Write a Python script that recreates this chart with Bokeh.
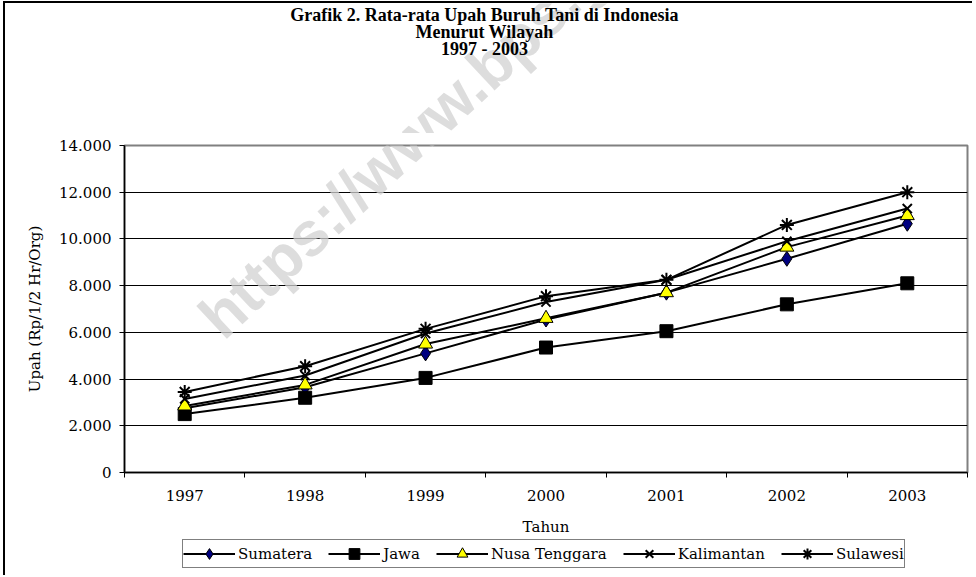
from bokeh.plotting import figure
from bokeh.layouts import column
from bokeh.models import FixedTicker, Legend, LegendItem, Label, Range1d
from bokeh.embed import file_html
from bokeh.resources import INLINE
import math

# ---- data ----
years = ["1997", "1998", "1999", "2000", "2001", "2002", "2003"]
sumatera = [2750, 3650, 5100, 6550, 7700, 9150, 10650]
jawa = [2500, 3200, 4050, 5350, 6050, 7200, 8100]
nusa_tenggara = [2850, 3750, 5500, 6600, 7700, 9650, 11000]
kalimantan = [3150, 4150, 5950, 7300, 8250, 9900, 11300]
sulawesi = [3450, 4550, 6150, 7550, 8250, 10600, 12000]
y_ticks = [0, 2000, 4000, 6000, 8000, 10000, 12000, 14000]
y_tick_labels = ["0", "2.000", "4.000", "6.000", "8.000", "10.000", "12.000", "14.000"]
title_lines = ["Grafik 2. Rata-rata Upah Buruh Tani di Indonesia", "Menurut Wilayah", "1997 - 2003"]
x_title = "Tahun"
y_title = "Upah (Rp/1/2 Hr/Org)"
watermark = "https://www.bps.go.id"

xs = [i + 1 for i in range(len(years))]

# ---- layout (page pixels) ----
OX, OY = 5, 3            # content origin inside the css border
W = 967
HH = 130                 # header canvas height
MAIN_TOP = OY + HH
ML, MT, MR = 124 - OX, 145 - MAIN_TOP, (OX + W) - 967
FH = 329
MB = 64
HM = MT + FH + MB
LEG_TOP = MAIN_TOP + HM
HL = 575 - LEG_TOP
FW = W - ML - MR
PX0, PX1 = OX + ML, OX + W - MR     # page x of frame edges (shared by all rows)
X0, X1 = 0.5, len(years) + 0.5
Y0, Y1 = 0, 14000

def xd(px):  # page px -> main data x
    return X0 + (px - PX0) * (X1 - X0) / FW

def yd(py):  # page py -> main data y
    return Y0 + (MAIN_TOP + MT + FH - py) * (Y1 - Y0) / FH

SERIF = "DejaVu Serif"
FS = "15px"
WM_X, WM_Y, WM_ANGLE = 232, 352, 43
WM_STYLE = dict(text_font="Liberation Sans", text_font_style="bold", text_font_size="62px",
                text_color="#d2d2d2", text_alpha=0.75, level="underlay")

def strip(top, height):
    # a row whose frame shares the main chart's horizontal extent; data units = page pixels
    f = figure(width=W, height=height, output_backend="svg", toolbar_location=None,
               x_range=Range1d(PX0, PX1), y_range=Range1d(top + height, top),
               x_axis_location=None, y_axis_location=None,
               min_border=0, min_border_left=ML, min_border_right=MR,
               min_border_top=0, min_border_bottom=0,
               background_fill_color="white", border_fill_color="white")
    f.grid.visible = False
    f.outline_line_color = None
    return f

# ---- header (title) ----
hdr = strip(OY, HH)
hdr.add_layout(Label(x=WM_X, y=WM_Y, text=watermark,
                     angle=math.radians(WM_ANGLE), **WM_STYLE))
for line, cy in zip(title_lines, [14, 31, 48]):
    hdr.add_layout(Label(x=484, y=cy, text=line, text_align="center",
                         text_baseline="middle", text_font="Liberation Serif",
                         text_font_style="bold", text_font_size="18px", text_color="black"))

# ---- main chart ----
p = figure(width=W, height=HM, output_backend="svg", toolbar_location=None,
           x_range=Range1d(X0, X1), y_range=Range1d(Y0, Y1),
           min_border_left=ML, min_border_right=MR, min_border_top=MT, min_border_bottom=MB,
           background_fill_color="white", border_fill_color="white")

p.outline_line_color = "#808080"
p.outline_line_width = 2
p.xgrid.visible = False
p.ygrid.ticker = FixedTicker(ticks=y_ticks[1:-1])
p.ygrid.grid_line_color = "black"
p.ygrid.grid_line_width = 1

ya = p.yaxis[0]
ya.ticker = FixedTicker(ticks=y_ticks)
ya.major_label_overrides = {t: l for t, l in zip(y_ticks, y_tick_labels)}
ya.major_tick_out = 5
ya.major_tick_in = 0
ya.minor_tick_out = 0
ya.minor_tick_in = 0
ya.major_label_standoff = 8
ya.axis_line_color = "black"
ya.axis_line_width = 1.5
ya.major_tick_line_color = "black"
ya.major_label_text_font = SERIF
ya.major_label_text_font_size = FS
ya.major_label_text_color = "black"
ya.axis_label = y_title
ya.axis_label_text_font = SERIF
ya.axis_label_text_font_size = FS
ya.axis_label_text_font_style = "normal"
ya.axis_label_text_color = "black"
ya.axis_label_standoff = 12

xa = p.xaxis[0]
xa.ticker = FixedTicker(ticks=xs, minor_ticks=[x - 0.5 for x in xs] + [xs[-1] + 0.5])
xa.major_label_overrides = {x: y for x, y in zip(xs, years)}
xa.major_tick_out = 0
xa.major_tick_in = 0
xa.minor_tick_out = 5
xa.minor_tick_in = 0
xa.minor_tick_line_color = "black"
xa.major_label_standoff = 12
xa.axis_line_color = "black"
xa.axis_line_width = 1.5
xa.major_label_text_font = SERIF
xa.major_label_text_font_size = FS
xa.major_label_text_color = "black"
xa.axis_label = x_title
xa.axis_label_text_font = SERIF
xa.axis_label_text_font_size = FS
xa.axis_label_text_font_style = "normal"
xa.axis_label_text_color = "black"
xa.axis_label_standoff = 14

p.add_layout(Label(x=xd(WM_X), y=yd(WM_Y), text=watermark,
                   angle=math.radians(WM_ANGLE), **WM_STYLE))

series = [
    ("Sumatera", sumatera, "diamond", 15, "#000080"),
    ("Jawa", jawa, "square", 13, "black"),
    ("Nusa Tenggara", nusa_tenggara, "triangle", 14, "#FFFF00"),
    ("Kalimantan", kalimantan, "x", 13, None),
    ("Sulawesi", sulawesi, "asterisk", 14, None),
]

def draw(fig, x, y, marker, size, fill):
    ln = fig.line(x, y, line_color="black", line_width=2)
    if fill is None:
        sc = fig.scatter(x, y, marker=marker, size=size, line_color="black", line_width=2)
    else:
        sc = fig.scatter(x, y, marker=marker, size=size, fill_color=fill,
                         line_color="black", line_width=1)
    return ln, sc

for name, vals, marker, size, fill in series:
    draw(p, xs, vals, marker, size, fill)

# ---- legend strip (same series drawn off-range, only the legend shows) ----
lf = strip(LEG_TOP, HL)
items = []
for name, vals, marker, size, fill in series:
    ln, sc = draw(lf, xs, vals, marker, size, fill)
    items.append(LegendItem(label=name, renderers=[ln, sc]))
legend = Legend(items=items, orientation="horizontal",
                location=(182 - PX0, (LEG_TOP + HL) - 568),
                glyph_width=52, glyph_height=27, label_standoff=3, spacing=16, padding=0,
                margin=0, border_line_color="black", border_line_width=1,
                label_text_font=SERIF, label_text_font_size=FS, label_text_color="black",
                background_fill_color="white", background_fill_alpha=1)
lf.add_layout(legend, "center")

layout = column(hdr, p, lf, spacing=0,
                styles={"border-left": "2px solid black", "border-top": "2px solid black",
                        "margin-left": "3px", "margin-top": "1px"})

open("out.html", "w").write(file_html(layout, INLINE))
